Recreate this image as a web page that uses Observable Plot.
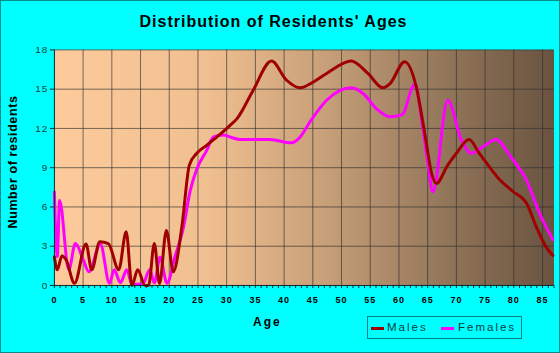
<!DOCTYPE html>
<html>
<head>
<meta charset="utf-8">
<script src="https://cdn.jsdelivr.net/npm/d3@7"></script>
<script src="https://cdn.jsdelivr.net/npm/@observablehq/plot@0.6"></script>
<style>
  html, body { margin: 0; padding: 0; background: #00FFFF; }
  #wrap { position: relative; width: 560px; height: 353px; box-sizing: border-box; border: 1px solid #0b8b8b; background: #00FFFF; font-family: Arial, "Liberation Sans", sans-serif; overflow: hidden; }
  #chart { position: absolute; left: -1px; top: -1px; }
  .t { position: absolute; white-space: nowrap; color: #000; }
  #title { left: 0; width: 545px; top: 12px; text-align: center; font-weight: bold; font-size: 16px; letter-spacing: 1px; }
  #xlab { left: 252px; top: 314px; font-weight: bold; font-size: 12px; letter-spacing: 2px; }
  #ylab { left: 12px; top: 161px; font-weight: bold; font-size: 12.5px; letter-spacing: 0.6px; transform: translate(-50%, -50%) rotate(-90deg); }
  #legend { position: absolute; left: 366px; top: 315px; width: 155px; height: 23px; border: 1px solid #0a7f7f; box-sizing: border-box; }
  .sw { position: absolute; top: 10px; width: 13px; height: 3px; }
  .lt { position: absolute; top: 4px; font-size: 11.5px; letter-spacing: 2px; color: #063c3c; }
  svg text { letter-spacing: 1px; }
  .xax text { font-weight: bold; }
</style>
</head>
<body>
<div id="wrap">
  <div id="chart"></div>
  <div class="t" id="title">Distribution of Residents' Ages</div>
  <div class="t" id="xlab">Age</div>
  <div class="t" id="ylab">Number of residents</div>
  <div id="legend">
    <div class="sw" style="left:3px;background:#A00000"></div>
    <div class="lt" style="left:19px">Males</div>
    <div class="sw" style="left:73px;background:#FF00FF"></div>
    <div class="lt" style="left:90px">Females</div>
  </div>
</div>
<script>
const maleAges = [0, 0.5, 1.3, 2, 3.5, 5.5, 6.5, 7.9, 9.4, 11.2, 12.5, 13.5, 14.5, 15.8, 16.4, 17.4, 18.3, 19.5, 20.7, 22.2, 23.5, 24.8, 26.5, 28.3, 30.5, 31.8, 34.6, 37.8, 40.4, 42.8, 45.1, 47.4, 51.7, 54.6, 57.2, 58.4, 61, 63, 64.5, 65.7, 66.5, 68.5, 70, 72.2, 74, 77.3, 79.8, 82.2, 83.9, 85.6, 86.8];
const maleValues = [2.2, 1.2, 2.25, 2.0, 0.17, 3.17, 1.2, 3.35, 3.2, 1.2, 4.1, 0.0, 1.2, 0.0, 0.0, 3.2, 0.15, 4.2, 1.05, 4.5, 9.2, 10.1, 10.7, 11.35, 12.2, 12.75, 14.9, 17.15, 15.7, 15.1, 15.55, 16.2, 17.15, 16.2, 15.1, 15.4, 17.1, 15.2, 11.6, 8.55, 7.8, 9.2, 10.1, 11.15, 10.1, 8.2, 7.2, 6.3, 4.5, 2.95, 2.3];
const femaleAges = [0, 0.5, 0.9, 2.5, 3.65, 5, 6, 8, 9.6, 10.4, 11.5, 12.6, 13.5, 14.5, 15.5, 16.6, 17.4, 18.4, 19.6, 21, 22.5, 23.6, 24.8, 26.5, 27.7, 29.4, 30.6, 32.3, 37.5, 41.3, 42.8, 44.5, 47.4, 51.7, 53.8, 56.1, 58.4, 60.1, 60.7, 62.2, 62.8, 64, 65, 65.9, 68.5, 70.9, 72.6, 74.6, 76.9, 79.5, 82.2, 84.5, 86.8];
const femaleValues = [7.15, 2.2, 6.5, 1.2, 3.2, 2.0, 1.05, 3.17, 0.17, 1.2, 0.2, 1.2, 0.1, 0.1, 0.2, 1.2, 0.2, 2.15, 0.17, 2.2, 4.5, 7.15, 8.9, 10.3, 11.35, 11.5, 11.35, 11.15, 11.15, 10.9, 11.35, 12.5, 14.15, 15.1, 14.65, 13.5, 12.9, 13.0, 13.1, 15.0, 15.4, 12.5, 9.5, 7.15, 14.15, 11.1, 10.1, 10.6, 11.15, 9.8, 8.05, 5.5, 3.5];
const xTicks = d3.range(0, 88, 1);
const xGrid = d3.range(5, 90, 5);
const yTicks = [0, 3, 6, 9, 12, 15, 18];

const males = maleAges.map((a, i) => ({age: a, v: maleValues[i]}));
const females = femaleAges.map((a, i) => ({age: a, v: femaleValues[i]}));

const svg = Plot.plot({
  width: 560, height: 353,
  marginTop: 49.5, marginRight: 5.5, marginBottom: 67.5, marginLeft: 54,
  style: {background: "transparent", fontFamily: "Arial, 'Liberation Sans', sans-serif", overflow: "visible"},
  x: {domain: [0, 87]},
  y: {domain: [0, 18]},
  marks: [
    Plot.frame({fill: "url(#bg)", stroke: null}),
    Plot.gridX(xGrid, {stroke: "#2e2e2e", strokeOpacity: 0.65, strokeWidth: 1}),
    Plot.gridY(yTicks.slice(1), {stroke: "#2e2e2e", strokeOpacity: 0.65, strokeWidth: 1}),
    Plot.line(females, {x: "age", y: "v", stroke: "#FF00FF", strokeWidth: 3, curve: "monotone-x"}),
    Plot.line(males, {x: "age", y: "v", stroke: "#A00000", strokeWidth: 3, curve: "monotone-x"}),
    Plot.axisX({ticks: xTicks, tickSize: 3, tickPadding: 8, tickFormat: d => d % 5 === 0 ? String(d) : "", fontSize: 9, label: null, stroke: "#0a2a2a", fill: "#000", className: "xax"}),
    Plot.axisY({ticks: yTicks, tickSize: 4, tickPadding: 2, fontSize: 10, label: null, stroke: "#0a2a2a", fill: "#124236"}),
    Plot.ruleY([0], {stroke: "#0a2a2a"}),
    Plot.ruleX([0], {stroke: "#0a2a2a"})
  ]
});

const defs = d3.select(svg).insert("defs", ":first-child");
const g = defs.append("linearGradient").attr("id", "bg").attr("x1", 0).attr("x2", 1).attr("y1", 0).attr("y2", 0);
[[0, "#FDCB9B"], [0.3, "#F1C090"], [0.55, "#C69E78"], [0.8, "#8F7358"], [1, "#695340"]].forEach(([o, c]) => {
  g.append("stop").attr("offset", o).attr("stop-color", c);
});
document.getElementById("chart").appendChild(svg);
</script>
</body>
</html>
